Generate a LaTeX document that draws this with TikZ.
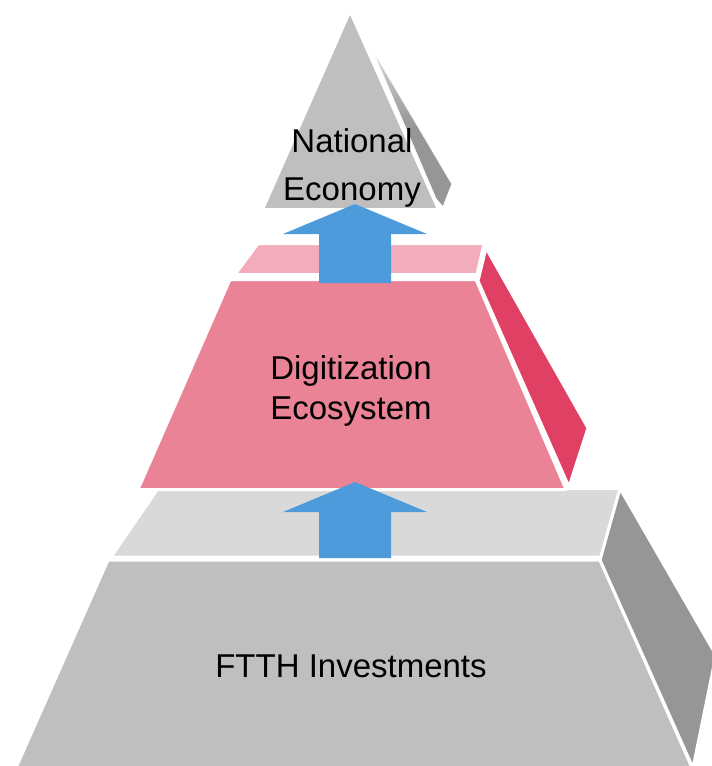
\documentclass[tikz,border=0pt]{standalone}
\usepackage{fontspec}
\setmainfont{Liberation Sans}

\definecolor{greyfront}{HTML}{BFBFBF}
\definecolor{greytop}{HTML}{D9D9D9}
\definecolor{greyside}{HTML}{969696}
\definecolor{pinkfront}{HTML}{EB8397}
\definecolor{pinktop}{HTML}{F2ACBB}
\definecolor{pinkside}{HTML}{E04064}
\definecolor{arrowblue}{HTML}{4D9BDB}

\tikzset{
  face/.style={draw=white, line width=3pt, line join=round},
  layertext/.style={font=\fontsize{33}{40}\selectfont, align=center, inner sep=0pt},
  liftarrow/.style={fill=arrowblue, draw=none},
}

\begin{document}
\begin{tikzpicture}[x=1pt, y=-1pt]
  \useasboundingbox (0,0) rectangle (712,766);
  \clip (0,0) rectangle (712,766);

  % Bottom layer
  \filldraw[face, fill=greytop] (158,488.5) -- (620,488.5) -- (601,557) -- (111,557) -- cycle;
  \filldraw[face, fill=greyfront] (108,560) -- (600,560) -- (693,770) -- (15,770) -- cycle;
  \filldraw[face, fill=greyside] (620,488.5) -- (716,655) -- (693,768) -- (600,560) -- cycle;

  % Middle layer
  \filldraw[face, fill=pinktop] (258,243.5) -- (484,243.5) -- (477,274.5) -- (235,274.5) -- cycle;
  \filldraw[face, fill=pinkfront] (230,279.5) -- (476,279.5) -- (566,489.5) -- (138,489.5) -- cycle;
  \filldraw[face, fill=pinkside] (486,248) -- (588,428) -- (569,487) -- (478,281) -- cycle;

  % Top of the pyramid
  \filldraw[face, line width=1pt, top color=greytop, bottom color=greyside, middle color=greyside]
    (371,47) -- (452,184) -- (443,207) -- (436,199) -- cycle;
  \filldraw[face, fill=greyfront] (350,11) -- (438.5,209.5) -- (262.5,209.5) -- cycle;

  % Arrows between the layers
  \foreach \ty/\len in {204/49, 482/46} {
    \coordinate (tip) at (355,\ty);
    \fill[liftarrow] (tip) -- ++(-72,30) -- ++(36,0) -- ++(0,\len)
      -- ++(72,0) -- ++(0,-\len) -- ++(36,0) -- cycle;
  }

  % Labels
  \node[layertext, font=\fontsize{33}{48}\selectfont] (economy) at (352,168) {National\\Economy};
  \node[layertext] (ecosystem) at (351,391) {Digitization\\Ecosystem};
  \node[layertext, anchor=base] (ftth) at (351,677) {FTTH Investments};
\end{tikzpicture}
\end{document}
